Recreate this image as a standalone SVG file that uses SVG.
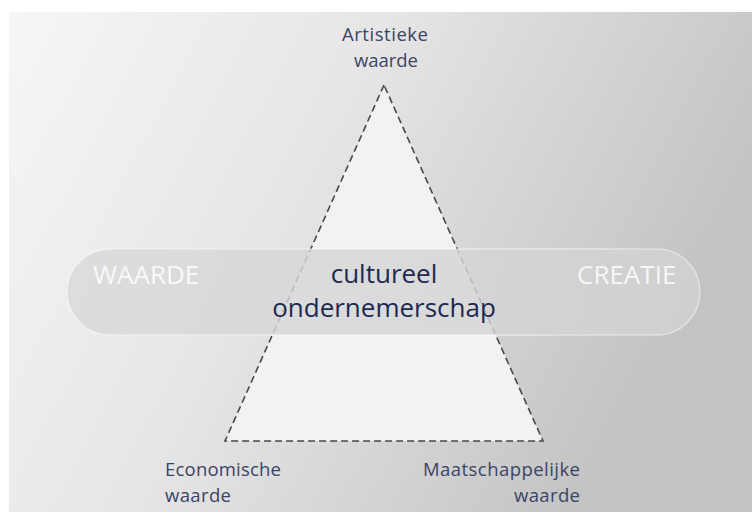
<svg xmlns="http://www.w3.org/2000/svg" width="752" height="512" viewBox="0 0 752 512">
  <defs>
    <linearGradient id="bg" x1="0" y1="0" x2="1" y2="0.35">
      <stop offset="0" stop-color="#f6f6f6"/>
      <stop offset="0.45" stop-color="#e6e6e6"/>
      <stop offset="1" stop-color="#c3c3c3"/>
    </linearGradient>
    <linearGradient id="pillfill" x1="0" y1="0" x2="1" y2="0">
      <stop offset="0" stop-color="#d9d9d9"/>
      <stop offset="1" stop-color="#d2d2d2"/>
    </linearGradient>
    <style>
      .label { font-family: "Open Sans", "Liberation Sans", sans-serif; font-size: 18.5px; fill: #3a4466; }
      .center { font-family: "Open Sans", "Liberation Sans", sans-serif; font-size: 26px; fill: #1c2a52; text-anchor: middle; }
      .side { font-family: "Open Sans", "Liberation Sans", sans-serif; font-size: 26px; fill: #ffffff; fill-opacity: 0.85; }
      .tri { fill: #f2f2f2; stroke: #474747; stroke-width: 1.6; stroke-dasharray: 7 4; }
    </style>
  </defs>
  <rect x="0" y="0" width="752" height="512" fill="#ffffff"/>
  <rect x="9" y="12" width="743" height="500" fill="url(#bg)"/>

  <g id="connectors">
    <polygon id="triangle" class="tri" points="384,85 225,441 543,441"/>
  </g>

  <g id="band">
    <rect x="67" y="249" width="633" height="86" rx="43" ry="43" fill="url(#pillfill)" fill-opacity="0.82" stroke="#ffffff" stroke-opacity="0.45" stroke-width="1.5"/>
  </g>

  <g id="node-waarde">
    <text class="side" x="93" y="284">WAARDE</text>
  </g>
  <g id="node-creatie">
    <text class="side" x="577" y="284">CREATIE</text>
  </g>

  <g id="node-center">
    <text class="center" x="384" y="283">cultureel</text>
    <text class="center" x="384" y="317">ondernemerschap</text>
  </g>

  <g id="node-artistiek">
    <text class="label" x="385" y="41" text-anchor="middle" textLength="86" lengthAdjust="spacing">Artistieke</text>
    <text class="label" x="386" y="66.5" text-anchor="middle" textLength="64" lengthAdjust="spacing">waarde</text>
  </g>

  <g id="node-economisch">
    <text class="label" x="165" y="476" textLength="116" lengthAdjust="spacing">Economische</text>
    <text class="label" x="165" y="501.5" textLength="66" lengthAdjust="spacing">waarde</text>
  </g>

  <g id="node-maatschappelijk">
    <text class="label" x="423" y="476" textLength="157" lengthAdjust="spacing">Maatschappelijke</text>
    <text class="label" x="514" y="501.5" textLength="66" lengthAdjust="spacing">waarde</text>
  </g>
</svg>
